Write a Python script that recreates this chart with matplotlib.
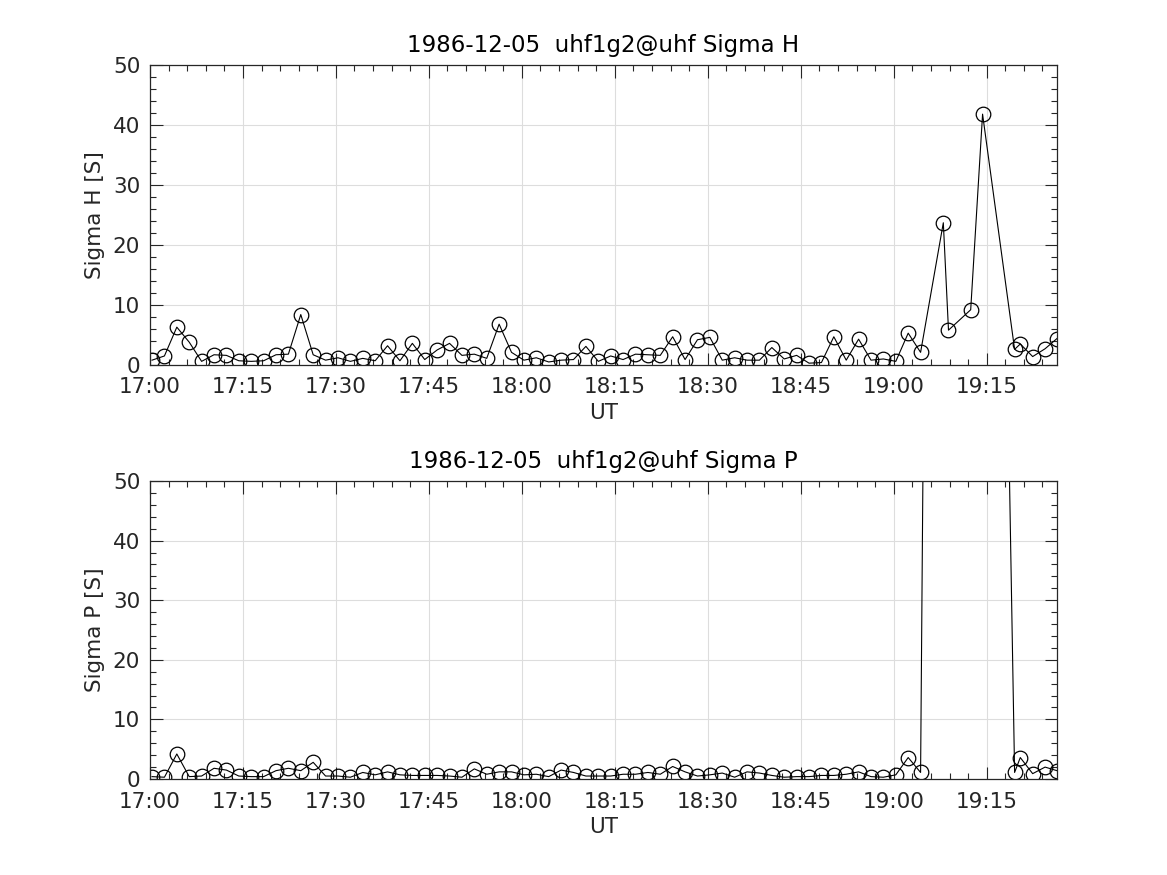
import datetime as dt
import matplotlib
matplotlib.use("Agg")
import matplotlib.pyplot as plt
import matplotlib.dates as mdates

# sample times (UT) on 1986-12-05
times = [
    "17:00:20", "17:02:20", "17:04:20", "17:06:20", "17:08:20", "17:10:20", "17:12:20", "17:14:20",
    "17:16:20", "17:18:20", "17:20:20", "17:22:20", "17:24:20", "17:26:20", "17:28:20", "17:30:20",
    "17:32:20", "17:34:20", "17:36:20", "17:38:20", "17:40:20", "17:42:20", "17:44:20", "17:46:20",
    "17:48:20", "17:50:20", "17:52:20", "17:54:20", "17:56:20", "17:58:20", "18:00:20", "18:02:20",
    "18:04:20", "18:06:20", "18:08:20", "18:10:20", "18:12:20", "18:14:20", "18:16:20", "18:18:20",
    "18:20:20", "18:22:20", "18:24:20", "18:26:20", "18:28:20", "18:30:20", "18:32:20", "18:34:20",
    "18:36:20", "18:38:20", "18:40:20", "18:42:20", "18:44:20", "18:46:20", "18:48:20", "18:50:20",
    "18:52:20", "18:54:20", "18:56:20", "18:58:20", "19:00:20", "19:02:20", "19:04:20",
    "19:08:00", "19:08:50", "19:12:25", "19:14:20", "19:19:30", "19:20:25", "19:22:25",
    "19:24:25", "19:26:20",
]

sigma_h = [
    0.8, 1.5, 6.3, 3.8, 0.6, 1.7, 1.6, 0.7, 0.6, 0.7, 1.7, 1.8, 8.4, 1.7, 0.8, 1.2,
    0.6, 1.1, 0.7, 3.2, 0.7, 3.6, 0.9, 2.5, 3.6, 1.6, 1.8, 1.1, 6.8, 2.1, 0.8, 1.2,
    0.5, 0.8, 0.9, 3.1, 0.6, 1.5, 0.9, 1.8, 1.7, 1.6, 4.7, 0.9, 4.2, 4.6, 0.8, 1.2,
    0.8, 0.8, 2.9, 1.0, 1.6, 0.3, 0.4, 4.7, 0.8, 4.3, 0.8, 1.0, 0.6, 5.3, 2.1,
    23.7, 5.8, 9.2, 41.8, 2.6, 3.5, 1.4, 2.7, 4.4,
]

sigma_p = [
    0.4, 0.3, 4.2, 0.4, 0.5, 1.8, 1.5, 0.5, 0.4, 0.4, 1.4, 1.8, 1.4, 2.8, 0.5, 0.5,
    0.3, 1.1, 0.7, 1.2, 0.7, 0.6, 0.6, 0.6, 0.5, 0.3, 1.7, 0.8, 1.2, 1.2, 0.7, 0.8,
    0.4, 1.5, 1.1, 0.5, 0.5, 0.5, 0.8, 0.8, 1.1, 0.8, 2.1, 1.2, 0.5, 0.7, 1.0, 0.3,
    1.2, 1.0, 0.6, 0.3, 0.4, 0.4, 0.6, 0.6, 0.8, 1.2, 0.4, 0.3, 0.7, 3.6, 1.1,
    490.0, 420.0, 360.0, 310.0, 1.1, 3.6, 0.9, 2.0, 1.4,
]

day = "1986-12-05"
t = [dt.datetime.strptime(day + " " + s, "%Y-%m-%d %H:%M:%S") for s in times]
t_start = dt.datetime(1986, 12, 5, 17, 0, 0)

plt.rcParams["font.family"] = "DejaVu Sans"

fig = plt.figure(figsize=(11.67, 8.75), dpi=100)
ax1 = fig.add_axes([0.1285, 0.5829, 0.7772, 0.3429])
ax2 = fig.add_axes([0.1285, 0.1097, 0.7772, 0.3406])

panels = [(ax1, sigma_h, "Sigma H"), (ax2, sigma_p, "Sigma P")]
for ax, vals, name in panels:
    ax.plot(t, vals, "-", color="black", linewidth=0.8,
            marker="o", markersize=10.5, markerfacecolor="none",
            markeredgecolor="black", markeredgewidth=0.9)
    ax.set_xlim(t_start, t[-1])
    ax.set_ylim(0, 50)
    ax.set_yticks([0, 10, 20, 30, 40, 50])
    ax.yaxis.set_minor_locator(matplotlib.ticker.MultipleLocator(2))
    ax.xaxis.set_major_locator(mdates.MinuteLocator(byminute=[0, 15, 30, 45]))
    ax.xaxis.set_minor_locator(mdates.MinuteLocator(byminute=range(0, 60, 3)))
    ax.xaxis.set_major_formatter(mdates.DateFormatter("%H:%M"))
    ax.grid(True, which="major", color="#dddddd", linewidth=0.8)
    ax.set_axisbelow(True)
    ax.tick_params(which="both", direction="in", top=True, right=True,
                   colors="#262626", labelsize=15.5)
    ax.tick_params(axis="x", which="major", pad=9)
    ax.tick_params(axis="y", which="major", pad=7)
    ax.tick_params(which="major", length=9, width=0.8)
    ax.tick_params(which="minor", length=4.5, width=0.8)
    for sp in ax.spines.values():
        sp.set_color("#262626")
        sp.set_linewidth(0.9)
    ax.set_title(day + "  uhf1g2@uhf " + name, fontsize=16.5, color="black", pad=9)
    ax.set_xlabel("UT", fontsize=15.5, color="#262626", labelpad=4)
    ax.set_ylabel(name + " [S]", fontsize=15.5, color="#262626", labelpad=6)

fig.savefig("out.png", dpi=100)
